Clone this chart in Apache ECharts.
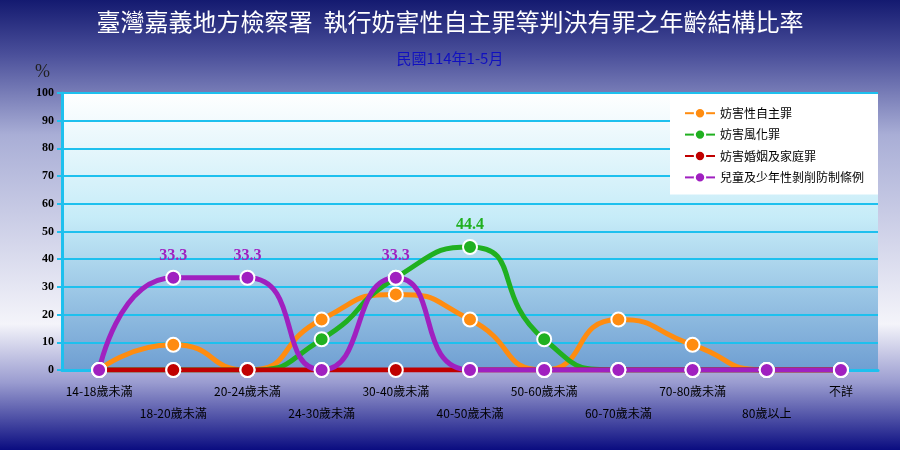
<!DOCTYPE html>
<html>
<head>
<meta charset="UTF-8">
<script src="https://cdn.jsdelivr.net/npm/echarts@6/dist/echarts.min.js"></script>
<style>
  body { margin: 0; }
  #main { width: 900px; height: 450px; }
</style>
</head>
<body>
<div id="main"></div>
<script>
var categories = ['14-18歲未滿', '18-20歲未滿', '20-24歲未滿', '24-30歲未滿', '30-40歲未滿', '40-50歲未滿',
  '50-60歲未滿', '60-70歲未滿', '70-80歲未滿', '80歲以上', '不詳'];
var obstruct = [0, 9.1, 0, 18.2, 27.3, 18.2, 0, 18.2, 9.1, 0, 0];
var morals = [0, 0, 0, 11.1, 33.3, 44.4, 11.1, 0, 0, 0, 0];
var marriage = [0, 0, 0, 0, 0, 0, 0, 0, 0, 0, 0];
var children = [0, 33.3, 33.3, 0, 33.3, 0, 0, 0, 0, 0, 0];
var labelled = { morals: [5], children: [1, 2, 4] };

var chart = echarts.init(document.getElementById('main'));
var font = '"Noto Sans CJK TC", serif';

function mk(name, data, color, marks) {
  return {
    name: name, type: 'line', smooth: 0.6, data: data.map(function (v, i) {
      var d = { value: v };
      if (marks && marks.indexOf(i) >= 0) {
        d.label = { show: true, position: 'top', distance: 6, color: color, fontSize: 16, fontWeight: 'bold', fontFamily: 'serif', formatter: '{c}' };
      }
      return d;
    }),
    symbol: 'circle', symbolSize: 14,
    lineStyle: { width: 5, color: color },
    itemStyle: { color: color, borderColor: '#fff', borderWidth: 2 }
  };
}

chart.setOption({
  backgroundColor: new echarts.graphic.LinearGradient(0, 0, 0, 1, [
    { offset: 0, color: '#141a70' }, { offset: 0.12, color: '#4a4f9a' }, { offset: 0.3, color: '#a9aed6' },
    { offset: 0.72, color: '#f4f4fa' }, { offset: 0.85, color: '#9a9cd0' }, { offset: 1, color: '#0a0c80' }]),
  title: [
    { text: '臺灣嘉義地方檢察署  執行妨害性自主罪等判決有罪之年齡結構比率', left: 'center', top: 5,
      textStyle: { color: '#fff', fontSize: 24, fontFamily: font, fontWeight: 'normal' } },
    { text: '民國114年1-5月', left: 'center', top: 46, textStyle: { color: '#1010c0', fontSize: 15, fontFamily: font, fontWeight: 'normal' } },
    { text: '%', left: 30, top: 58, textStyle: { color: '#222', fontSize: 18, fontWeight: 'normal', fontFamily: 'serif' } }
  ],
  legend: {
    orient: 'vertical', right: 22, top: 96, backgroundColor: '#fff', padding: [11, 14, 11, 14],
    itemWidth: 30, itemHeight: 13, itemGap: 9, align: 'left',
    textStyle: { fontFamily: font, fontSize: 12, color: '#000' },
    data: ['妨害性自主罪', '妨害風化罪', '妨害婚姻及家庭罪', '兒童及少年性剝削防制條例']
  },
  grid: { left: 62, right: 22, top: 93, bottom: 80,
    show: true, borderWidth: 0,
    backgroundColor: new echarts.graphic.LinearGradient(0, 0, 0, 1, [
      { offset: 0, color: '#ffffff' }, { offset: 0.45, color: '#c6ecf8' }, { offset: 1, color: '#6f9fd2' }]) },
  xAxis: {
    type: 'category', data: categories,
    axisLine: { lineStyle: { color: '#1ec0ee', width: 3 } },
    axisTick: { lineStyle: { color: '#1ec0ee', width: 2 } },
    axisLabel: { interval: 0, color: '#000', fontFamily: font, fontSize: 12, margin: 10, lineHeight: 22,
      formatter: function (v, i) { return i % 2 ? '\n' + v : v; } }
  },
  yAxis: {
    type: 'value', min: 0, max: 100, interval: 10,
    axisLine: { show: true, lineStyle: { color: '#1ec0ee', width: 3 } },
    axisTick: { show: true, lineStyle: { color: '#1ec0ee', width: 2 } },
    splitLine: { lineStyle: { color: '#1ec0ee', width: 2 } },
    axisLabel: { color: '#000', fontWeight: 'bold', fontFamily: 'serif', fontSize: 12 }
  },
  series: [
    mk('妨害性自主罪', obstruct, '#ff8c10'),
    mk('妨害風化罪', morals, '#20b020', labelled.morals),
    mk('妨害婚姻及家庭罪', marriage, '#c00000'),
    mk('兒童及少年性剝削防制條例', children, '#a020c0', labelled.children)
  ]
});
</script>
</body>
</html>
